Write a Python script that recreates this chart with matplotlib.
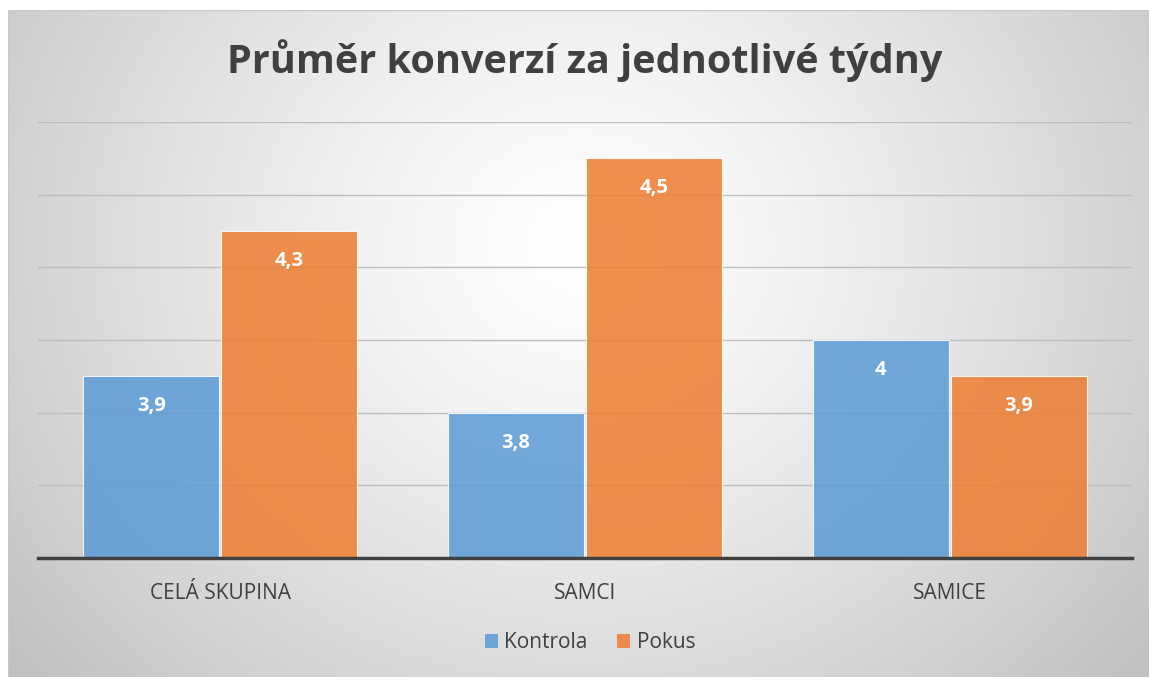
import numpy as np
import matplotlib
matplotlib.use("Agg")
import matplotlib.pyplot as plt
from matplotlib.patches import Rectangle, Patch

categories = ["CELÁ SKUPINA", "SAMCI", "SAMICE"]
kontrola = [3.9, 3.8, 4.0]
pokus = [4.3, 4.5, 3.9]
kontrola_labels = ["3,9", "3,8", "4"]
pokus_labels = ["4,3", "4,5", "3,9"]
series_names = ["Kontrola", "Pokus"]
title = "Průměr konverzí za jednotlivé týdny"

W, H = 1149, 677
fig = plt.figure(figsize=(W/100, H/100), dpi=100)
fig.patch.set_facecolor("white")

# background radial gradient panel
bg = fig.add_axes([8/W, 0, 1 - 8/W, 1 - 10/H])
bg.set_axis_off()
ny, nx = 300, 500
yy, xx = np.mgrid[0:ny, 0:nx]
cx, cy = nx*0.5, ny*0.35
r = np.sqrt(((xx-cx)/(nx*0.62))**2 + ((yy-cy)/(ny*0.95))**2)
v = 1.0 - 0.23*np.clip(r, 0, 1.2)**1.3
img = np.dstack([v, v, v])
bg.imshow(img, extent=[0, 1, 0, 1], origin="upper", aspect="auto", interpolation="bilinear")
bg.add_patch(Rectangle((0, 0), 1, 1, transform=bg.transAxes, fill=False, ec="#c8c8c8", lw=1.0))

font = ["Open Sans", "DejaVu Sans"]

ax = fig.add_axes([38/W, 1 - 558/H, (1132-38)/W, (558-122)/H])
ax.patch.set_alpha(0)
x = np.arange(len(categories))
bw = 0.373
blue = "#5b9bd5"
orange = "#ed7d31"
b1 = ax.bar(x - bw/2 - 0.003, kontrola, bw, color=blue, alpha=0.85, ec="white", lw=0.8, zorder=3)
b2 = ax.bar(x + bw/2 + 0.003, pokus, bw, color=orange, alpha=0.85, ec="white", lw=0.8, zorder=3)
ax.set_ylim(3.4, 4.6)
ax.set_xlim(-0.5, 2.5)
ax.set_yticks(np.arange(3.4, 4.61, 0.2))
ax.yaxis.grid(True, color="#bdbdbd", lw=1.0, zorder=0)
ax.set_axisbelow(True)
for s in ["top", "right", "left"]:
    ax.spines[s].set_visible(False)
ax.spines["bottom"].set_color("#404040")
ax.spines["bottom"].set_linewidth(2.5)
ax.spines["bottom"].set_zorder(5)
ax.tick_params(axis="y", length=0, labelleft=False)
ax.tick_params(axis="x", length=0, pad=18)
ax.set_xticks(x)
ax.set_xticklabels(categories, fontsize=15, color="#404040", family=font)

for bars, labels in [(b1, kontrola_labels), (b2, pokus_labels)]:
    for b, lab in zip(bars, labels):
        ax.annotate(lab, (b.get_x() + b.get_width()/2, b.get_height()),
                    xytext=(0, -30), textcoords="offset pixels",
                    ha="center", va="center", color="white", fontsize=14.5,
                    fontweight="bold", family=font, zorder=6)

fig.text(585/W, 1 - 61/H, title, ha="center", va="center", fontsize=28.5,
         fontweight="bold", color="#404040", family=font)

handles = [Patch(facecolor=blue, alpha=0.85, label=series_names[0]),
           Patch(facecolor=orange, alpha=0.85, label=series_names[1])]
fig.legend(handles=handles, loc="center", bbox_to_anchor=(590/W, 1 - 643/H), ncol=2,
           frameon=False, prop={"family": font, "size": 15}, labelcolor="#404040",
           handlelength=0.65, handleheight=0.65, handletextpad=0.3, columnspacing=1.4)

fig.savefig("out.png", dpi=100)
